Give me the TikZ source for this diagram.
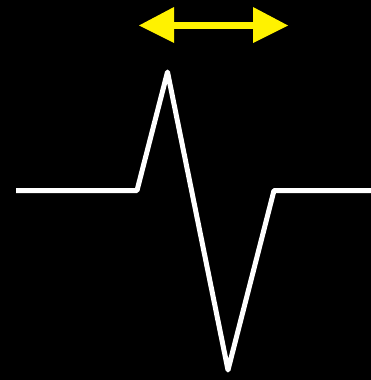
\documentclass[tikz,border=0pt]{standalone}
\begin{document}
\begin{tikzpicture}[x=1pt,y=-1pt,
  wave/.style={draw=white,line width=5pt,line join=round,line cap=butt},
  arrowfill/.style={fill=yellow}]
\fill[black] (0,0) rectangle (371,380);
\useasboundingbox (0,0) rectangle (371,380);
% waveform
\coordinate (s) at (16,190.5);
\coordinate (a) at (137,190.5);
\coordinate (p) at (167.5,72);
\coordinate (v) at (228,370);
\coordinate (b) at (274,190.5);
\coordinate (e) at (371,190.5);
\draw[wave] (s) -- (a) -- (p) -- (v) -- (b) -- (e);
% yellow double arrow
\fill[arrowfill] (173,22) rectangle (254,29);
\fill[arrowfill] (139,25.5) -- (174,7) -- (174,43) -- cycle;
\fill[arrowfill] (288,25.5) -- (253,7) -- (253,43) -- cycle;
\end{tikzpicture}
\end{document}
